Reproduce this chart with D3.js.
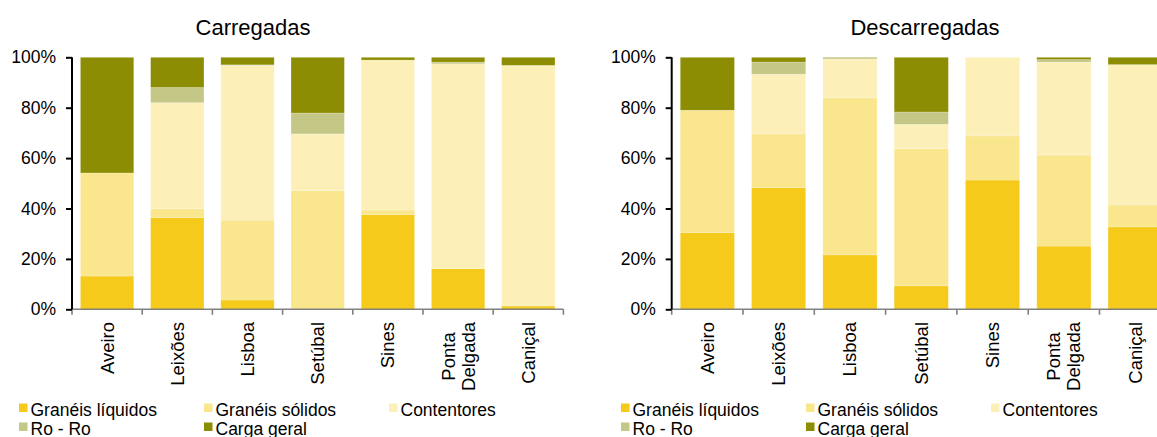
<!DOCTYPE html>
<html>
<head>
<meta charset="utf-8">
<script src="https://cdn.jsdelivr.net/npm/d3@7"></script>
<style>
  html, body { margin: 0; padding: 0; background: #fff; overflow: hidden; }
  svg { display: block; font-family: "Liberation Sans", Arial, sans-serif; }
</style>
</head>
<body>
<svg id="chart" width="1157" height="437"></svg>
<script>
// ---- Data ----
const categories = ["Aveiro", "Leixões", "Lisboa", "Setúbal", "Sines", "Ponta\nDelgada", "Caniçal"];
const seriesNames = ["Granéis líquidos", "Granéis sólidos", "Contentores", "Ro - Ro", "Carga geral"];
const yTicks = [0, 20, 40, 60, 80, 100];

// Carregadas (%)
const carLiquidos    = [13.2, 36.4, 3.7, 0.0, 37.6, 16.1, 1.3];
const carSolidos     = [40.9, 3.5, 31.7, 47.1, 1.8, 0.0, 0.0];
const carContentores = [0.0, 42.1, 61.4, 22.5, 59.5, 81.3, 95.5];
const carRoRo        = [0.0, 6.0, 0.2, 8.3, 0.0, 0.7, 0.0];
const carCargaGeral  = [45.9, 12.0, 3.0, 22.1, 1.1, 1.9, 3.2];

// Descarregadas (%)
const desLiquidos    = [30.4, 48.3, 21.6, 9.3, 51.3, 25.1, 32.7];
const desSolidos     = [48.6, 21.3, 62.3, 54.5, 17.5, 36.1, 8.7];
const desContentores = [0.0, 23.7, 15.4, 9.6, 31.2, 36.9, 55.7];
const desRoRo        = [0.0, 4.8, 0.5, 4.9, 0.0, 1.0, 0.0];
const desCargaGeral  = [21.0, 1.9, 0.2, 21.7, 0.0, 0.9, 2.9];

const colors = ["#F5CA1A", "#FAE68C", "#FCEFB8", "#C5C787", "#8C8D02"];

// ---- Drawing ----
const svg = d3.select("#chart");

function drawPanel(cfg) {
  const { title, series, x0, x1, titleX, legendX } = cfg;
  const yTop = 57.3, yBottom = 309.3;
  const g = svg.append("g");

  const x = d3.scaleBand().domain(categories).range([x0, x1]).padding(0);
  const y = d3.scaleLinear().domain([0, 100]).range([yBottom, yTop]);

  const rows = categories.map((c, i) => {
    const r = { cat: c };
    seriesNames.forEach((s, k) => r[s] = series[k][i]);
    return r;
  });
  const stacked = d3.stack().keys(seriesNames)(rows);

  const barW = x.bandwidth() * 0.76;
  const off = (x.bandwidth() - barW) / 2;

  g.selectAll("g.layer").data(stacked).join("g")
    .attr("class", "layer")
    .attr("fill", (d, i) => colors[i])
    .selectAll("rect").data(d => d).join("rect")
      .attr("x", d => x(d.data.cat) + off)
      .attr("width", barW)
      .attr("y", d => y(d[1]))
      .attr("height", d => Math.max(0, y(d[0]) - y(d[1])))
      .attr("stroke", "#ffffff")
      .attr("stroke-opacity", 0.35)
      .attr("stroke-width", 0.6);

  // X axis (gray)
  const xa = g.append("g");
  xa.append("line")
    .attr("x1", x0).attr("x2", x1)
    .attr("y1", yBottom).attr("y2", yBottom)
    .attr("stroke", "#808080").attr("stroke-width", 1.6);
  const bounds = categories.map(c => x(c)).concat([x1]);
  xa.selectAll("line.tk").data(bounds).join("line")
    .attr("class", "tk")
    .attr("x1", d => d).attr("x2", d => d)
    .attr("y1", yBottom).attr("y2", yBottom + 5.5)
    .attr("stroke", "#808080").attr("stroke-width", 1.6);

  // X labels rotated
  categories.forEach(c => {
    const lines = c.split("\n");
    const cx = x(c) + x.bandwidth() / 2;
    const t = g.append("text")
      .attr("font-size", 18.5)
      .attr("fill", "#000")
      .attr("text-anchor", "middle");
    lines.forEach((ln, li) => {
      t.append("tspan").attr("x", 0)
        .attr("y", (li - (lines.length - 1) / 2) * 20 + 6.5)
        .text(ln);
    });
    let maxLen = 0;
    t.selectAll("tspan").each(function () { maxLen = Math.max(maxLen, this.getComputedTextLength()); });
    t.attr("transform", `translate(${cx},${322 + maxLen / 2}) rotate(-90)`);
  });

  // Y axis (black)
  const ya = g.append("g").attr("transform", `translate(${x0},0)`)
    .call(d3.axisLeft(y).tickValues(yTicks).tickSize(6).tickPadding(10).tickFormat(d => d + "%"));
  ya.select(".domain").attr("stroke", "#000").attr("stroke-width", 2)
    .attr("d", `M0,${yTop}V${yBottom}`);
  ya.selectAll(".tick line").attr("stroke", "#000").attr("stroke-width", 2);
  ya.selectAll(".tick text").attr("font-size", 17.5).attr("fill", "#000")
    .attr("font-family", "Liberation Sans, Arial, sans-serif");

  // Title
  g.append("text").attr("x", titleX).attr("y", 35)
    .attr("text-anchor", "middle").attr("font-size", 22).attr("fill", "#000")
    .text(title);

  // Legend
  const legendPos = [
    [0, 0], [185, 0], [370, 0],
    [0, 19], [185, 19]
  ];
  seriesNames.forEach((s, i) => {
    const [dx, dy] = legendPos[i];
    const lg = g.append("g").attr("transform", `translate(${legendX + dx},${dy})`);
    lg.append("rect").attr("x", 0).attr("y", 403.5).attr("width", 8.5).attr("height", 8.5)
      .attr("fill", colors[i]);
    lg.append("text").attr("x", 11.5).attr("y", 415.5)
      .attr("font-size", 17.5).attr("fill", "#000").text(s);
  });
}

drawPanel({
  title: "Carregadas",
  series: [carLiquidos, carSolidos, carContentores, carRoRo, carCargaGeral],
  x0: 72, x1: 563.4, titleX: 253, legendX: 19
});
drawPanel({
  title: "Descarregadas",
  series: [desLiquidos, desSolidos, desContentores, desRoRo, desCargaGeral],
  x0: 671.7, x1: 1170.8, titleX: 925, legendX: 621
});
</script>
</body>
</html>
